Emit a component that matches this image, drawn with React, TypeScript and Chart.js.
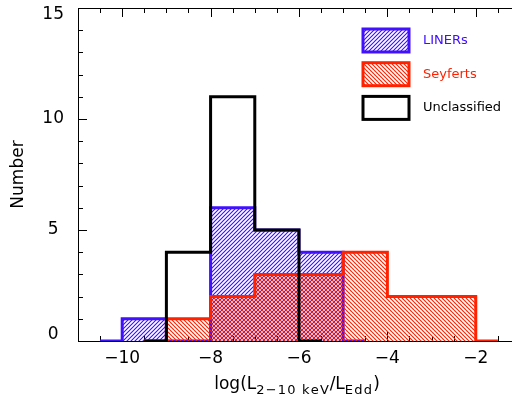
import React, { useEffect, useRef } from "react";
import { Chart, registerables } from "chart.js";

Chart.register(...registerables);

// ---- data ----
const binWidth = 1;
const linerBinStarts = [-10, -9, -8, -7, -6];
const linerCounts = [1, 0, 6, 5, 4];
const seyfertBinStarts = [-9, -8, -7, -6, -5, -4, -3];
const seyfertCounts = [1, 2, 3, 3, 4, 2, 2];
const unclassBinStarts = [-9, -8, -7];
const unclassCounts = [4, 11, 5];
const seriesNames = ["LINERs", "Seyferts", "Unclassified"];
const seriesColors = ["#4010ff", "#ff2200", "#000000"];
const xTickValues = [-10, -8, -6, -4, -2];
const yTickValues = [0, 5, 10, 15];
const yTitle = "Number";
const xTitleParts = [
  { text: "log(L", sub: false },
  { text: "2\u221210 keV", sub: true },
  { text: "/L", sub: false },
  { text: "Edd", sub: true },
  { text: ")", sub: false },
];

const FONT = "'DejaVu Sans', sans-serif";

function stepPoints(starts: number[], counts: number[]) {
  const pts: { x: number; y: number }[] = [{ x: starts[0] - binWidth / 2, y: 0 }];
  starts.forEach((s, i) => pts.push({ x: s, y: counts[i] }));
  const end = starts[starts.length - 1] + binWidth;
  pts.push({ x: end, y: 0 });
  pts.push({ x: end + binWidth / 2, y: 0 });
  return pts;
}

function makeHatch(color: string, dir: "/" | "\\") {
  const n = 4;
  const c = document.createElement("canvas");
  c.width = n;
  c.height = n;
  const g = c.getContext("2d")!;
  g.strokeStyle = color;
  g.lineWidth = 1.15;
  g.beginPath();
  for (const off of [-n, 0, n]) {
    if (dir === "/") {
      g.moveTo(off - 1, n + 1);
      g.lineTo(off + n + 1, -1);
    } else {
      g.moveTo(off - 1, -1);
      g.lineTo(off + n + 1, n + 1);
    }
  }
  g.stroke();
  return g.createPattern(c, "repeat")!;
}

export default function App() {
  const ref = useRef<HTMLCanvasElement | null>(null);

  useEffect(() => {
    if (!ref.current) return;
    const blueHatch = makeHatch(seriesColors[0], "/");
    const redHatch = makeHatch(seriesColors[1], "\\");
    const fills: (CanvasPattern | null)[] = [blueHatch, redHatch, null];

    // keep the end labels of the y axis inside the frame (as in the original plot)
    const labelNudgePlugin = {
      id: "labelNudge",
      beforeDraw(chart: any) {
        const y = chart.scales.y;
        const items = y.getLabelItems(chart.chartArea);
        items.forEach((it: any) => {
          if (it.label === "15") it.options.translation[1] += 7;
          if (it.label === "0") it.options.translation[1] -= 6;
        });
      },
    };

    const axesPlugin = {
      id: "idlAxes",
      beforeDatasetsDraw(chart: any) {
        const { ctx, chartArea, scales } = chart;
        const { left, right, top, bottom } = chartArea;
        const x = scales.x;
        const y = scales.y;
        ctx.save();
        ctx.strokeStyle = "#000";
        ctx.lineWidth = 1;
        ctx.beginPath();
        ctx.moveTo(left + 0.5, top);
        ctx.lineTo(left + 0.5, bottom + 1);
        ctx.moveTo(left, bottom + 0.5);
        ctx.lineTo(right, bottom + 0.5);
        ctx.moveTo(left, top + 0.5);
        ctx.lineTo(right, top + 0.5);
        // x ticks every 0.5, major every 2
        const kMin = Math.ceil(x.min * 2);
        const kMax = Math.floor(x.max * 2);
        for (let k = kMin; k <= kMax; k++) {
          const v = k / 2;
          const px = Math.round(x.getPixelForValue(v)) + 0.5;
          const len = k % 4 === 0 ? 9 : 5;
          ctx.moveTo(px, bottom);
          ctx.lineTo(px, bottom - len);
          ctx.moveTo(px, top);
          ctx.lineTo(px, top + len);
        }
        for (let v = Math.ceil(y.min) + 1; v < y.max; v++) {
          const py = Math.round(y.getPixelForValue(v)) + 0.5;
          const len = v % 5 === 0 ? 9 : 5;
          ctx.moveTo(left, py);
          ctx.lineTo(left + len, py);
        }
        ctx.stroke();
        ctx.restore();
      },
    };

    const legendAndTitlePlugin = {
      id: "idlLegend",
      afterDraw(chart: any) {
        const { ctx } = chart;
        ctx.save();
        // legend
        const bx = 363;
        const bw = 46;
        const bh = 23;
        seriesNames.forEach((name, i) => {
          const by = 29 + i * 33.7;
          if (fills[i]) {
            ctx.fillStyle = fills[i];
            ctx.fillRect(bx, by, bw, bh);
          }
          ctx.strokeStyle = seriesColors[i];
          ctx.lineWidth = 3;
          ctx.lineJoin = "miter";
          ctx.strokeRect(bx, by, bw, bh);
          ctx.fillStyle = seriesColors[i];
          ctx.font = `13px ${FONT}`;
          ctx.textAlign = "left";
          ctx.textBaseline = "middle";
          ctx.fillText(name, 423, by + bh / 2);
        });
        // x title with subscripts
        const mainFont = `17px ${FONT}`;
        const subFont = `13px ${FONT}`;
        const subSpacing = 1.2;
        const widths = xTitleParts.map((p) => {
          ctx.font = p.sub ? subFont : mainFont;
          const w = ctx.measureText(p.text).width;
          return p.sub ? w + subSpacing * p.text.length : w;
        });
        const total = widths.reduce((a, b) => a + b, 0);
        let cx = 297 - total / 2;
        const baseY = 389;
        ctx.fillStyle = "#000";
        ctx.textAlign = "left";
        ctx.textBaseline = "alphabetic";
        xTitleParts.forEach((p, i) => {
          ctx.font = p.sub ? subFont : mainFont;
          if (p.sub) {
            let sx = cx;
            for (const ch of p.text) {
              ctx.fillText(ch, sx, baseY + 5);
              sx += ctx.measureText(ch).width + subSpacing;
            }
          } else {
            ctx.fillText(p.text, cx, baseY);
          }
          cx += widths[i];
        });
        ctx.restore();
      },
    };

    const datasets = [
      { starts: linerBinStarts, counts: linerCounts },
      { starts: seyfertBinStarts, counts: seyfertCounts },
      { starts: unclassBinStarts, counts: unclassCounts },
    ].map((s, i) => ({
      label: seriesNames[i],
      data: stepPoints(s.starts, s.counts),
      stepped: "before" as const,
      borderColor: seriesColors[i],
      borderWidth: 3,
      backgroundColor: fills[i] ?? "rgba(0,0,0,0)",
      fill: fills[i] ? "origin" : false,
      pointRadius: 0,
      borderJoinStyle: "miter" as const,
      borderCapStyle: "butt" as const,
      order: 3 - i,
    }));

    const chart = new Chart(ref.current, {
      type: "line",
      data: { datasets: datasets as any },
      options: {
        animation: false,
        responsive: true,
        maintainAspectRatio: false,
        layout: { padding: { top: 8, right: 0, left: 0, bottom: 0 } },
        plugins: { legend: { display: false }, tooltip: { enabled: false } },
        scales: {
          x: {
            type: "linear",
            min: -11,
            max: -1.18,
            grid: { display: false, drawTicks: false },
            border: { display: false },
            afterBuildTicks: (s: any) => {
              s.ticks = xTickValues.map((v) => ({ value: v }));
            },
            afterFit: (s: any) => {
              s.height = 64;
              s.paddingLeft = 0;
              s.paddingRight = 0;
            },
            ticks: {
              callback: (v: any) => String(v).replace("-", "\u2212"),
              font: { family: FONT, size: 17 },
              color: "#000",
              padding: 7,
              maxRotation: 0,
              autoSkip: false,
            },
          },
          y: {
            type: "linear",
            min: 0,
            max: 15,
            grid: { display: false, drawTicks: false },
            border: { display: false },
            afterBuildTicks: (s: any) => {
              s.ticks = yTickValues.map((v) => ({ value: v }));
            },
            afterFit: (s: any) => {
              s.width = 78;
              s.paddingTop = 0;
              s.paddingBottom = 0;
            },
            ticks: {
              crossAlign: "center",
              padding: 14,
              font: { family: FONT, size: 17 },
              color: "#000",
            },
            title: {
              display: true,
              text: yTitle,
              font: { family: FONT, size: 17 },
              color: "#000",
              padding: { top: 8, bottom: 0 },
            },
          },
        },
      },
      plugins: [labelNudgePlugin, axesPlugin, legendAndTitlePlugin],
    });
    return () => chart.destroy();
  }, []);

  return (
    <div style={{ position: "absolute", left: 0, top: 0, width: 512, height: 405 }}>
      <canvas ref={ref} />
    </div>
  );
}
